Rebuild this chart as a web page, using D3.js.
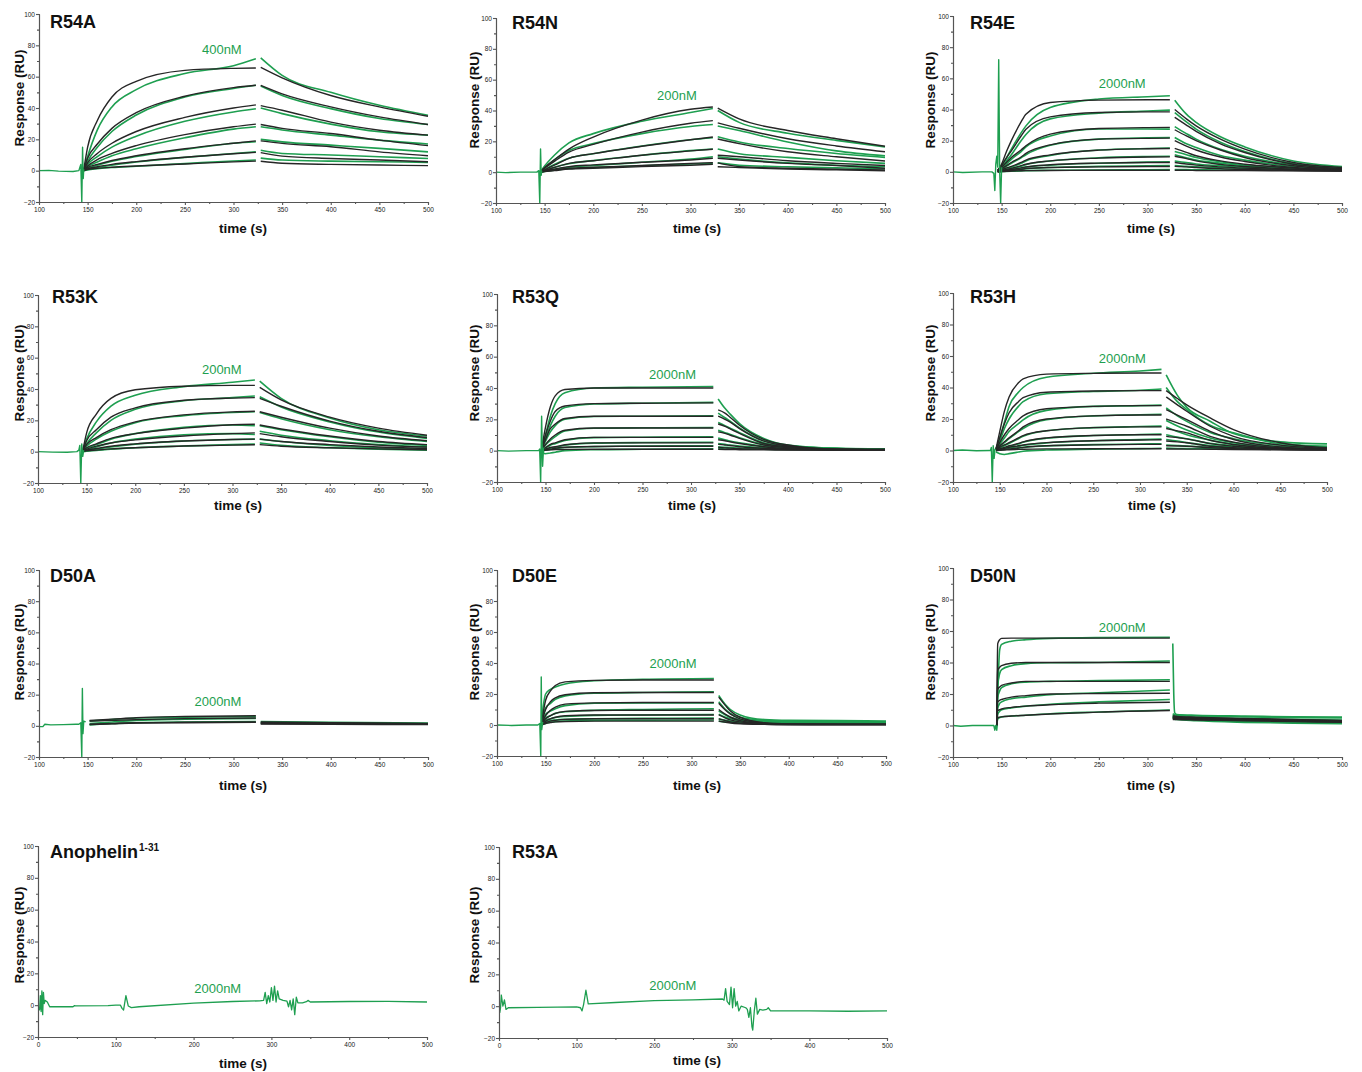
<!DOCTYPE html>
<html><head><meta charset="utf-8">
<script src="https://cdn.jsdelivr.net/npm/d3@7"></script>
<style>
body{margin:0;background:#fff;}
svg{display:block;font-family:"Liberation Sans",Arial,sans-serif;}
.axis path,.axis line{stroke:#555;stroke-width:1.1;}
.axis text{font-size:6.5px;fill:#222;font-family:"Liberation Sans",Arial,sans-serif;}
</style></head><body><script>
const GREEN = "#1e9f50", BLACK = "#262626";

// ---------- R54A ----------
const r54aPre = [[100,0],[110,0.2],[120,-0.3],[135,-0.5],[141,0],[142,2],[143,4],[144,-20],[144.8,15],[145.5,-5],[146,1]];
const r54aAssocT = [146,150,160,175,200,250,300,323];
const r54aFitAssoc = [
  [0.5,15,32,47,57,64,65.3,65.5],[0.5,8,17,27,37,47.5,53,54.5],[0.5,5,11,17.5,25,34,40,42],
  [0.3,3,7,11,16,23,28,29.7],[0.2,2,4,6.5,9.5,14,17.5,19],[0.1,1.2,2.5,4,5.8,8.6,10.8,11.7],[0,0.8,1.5,2.2,3,4.3,5.6,6.1]];
const r54aRawAssoc = [
  [0.5,9,26,40.7,51.7,62,67,71.4],[0.5,6,15,25,35.5,47,52.5,54.5],[0.5,4,9,15,22,31.5,37.5,39.5],
  [0.3,2.5,5.5,9.5,14,21,26.5,28],[0.2,1.5,3.5,6,9,13.5,17.5,18.5],[0.1,0.8,2,3.5,5.5,8.5,11,12],[0,0.5,1.2,2,2.8,4.5,6.2,6.8]];
const r54aDissT = [328,350,400,450,500];
const r54aFitDiss = [[66,59.3,48,40.7,34.7],[54.4,49,40.7,34.3,29.5],[41.5,38.6,31,25.8,22.7],[29.5,27,23.7,19.5,16],
  [19,17.4,15.3,12,9.5],[11.5,9.3,7.8,6.8,5.7],[6,4.7,4,3.6,3.2]];
const r54aRawDiss = [[72,60.8,50,41.7,35.4],[54,48,39.6,33.3,29.5],[40,36.4,29.7,24.8,22.7],[28,26,22.7,19.5,17],
  [20,18.4,16.3,14.2,12],[13,11,10,8.9,7.8],[8,6.8,6.1,5.7,5.3]];

// ---------- R54N ----------
const r54nPre = [[100,0],[110,-0.3],[125,0],[140,0],[142,0],[144,1],[145,-20],[145.8,15],[146.5,-2],[147,1]];
const r54nAssocT = [146,150,160,175,200,250,300,323];
const r54nFitAssoc = [
  [0.5,3,8,15,22.8,33.8,40.8,42.3],[0.5,2.5,7,13,18,26,31.7,33.4],[0.3,1.5,4.5,9,12,16.8,21,22.8],
  [0.2,1,3,5.7,7.4,11,13.8,14.9],[0.1,0.8,2,3.6,4.7,6.4,7.9,9],[0,0.6,1.5,2.5,3.2,4.3,5.7,6.2],[0,0.4,1,2,2.5,3.6,4.5,5.1]];
const r54nRawAssoc = [
  [0.5,4,11,19,25,33,38.7,41.3],[0.5,3,8,14,18.5,25,29.6,30.9],[0.3,1.8,5,9,12,17,21,22.3],
  [0.2,1.2,3.2,5.5,7.5,11,14,15],[0.1,0.6,1.8,3.2,4.3,6.4,8.5,10],[0,0.5,1.3,2.3,3,4.2,5.3,5.7]];
const r54nDissT = [328,350,400,450,500];
const r54nFitDiss = [[41.5,34.5,27,21.7,16.8],[32,28.5,21.7,17,13.2],[21.5,18.5,13.2,10,7.2],[11,10,7.4,5.7,4.3],
  [9,7.9,5.7,4.3,2.5],[6,3.6,2.5,1.9,1.5],[3.5,3,2.1,1.5,0.9]];
const r54nRawDiss = [[40,32.3,25.3,20.6,16.4],[30,27,19.6,13.8,10.6],[23,19.6,15.3,12.1,9.6],[15,12,9.6,7.4,5.7],
  [10,8.5,6,4.5,3.5],[6,4.5,3.5,2.8,2.2]];

// ---------- R54E ----------
const r54ePre = [[100,0],[110,-0.4],[130,0],[140,0],[142,-1],[143,-12],[144,5],[145,10],[146,3],[147,72],[148,0],[149,-20],[150,3]];
const r54eAssocT = [146,150,155,160,170,175,200,250,300,323];
const r54eFitAssoc = [
  [1,5,13,20,32,37,44.5,46,46.3,46.3],[1,4,9,13.5,23,27.4,35.3,38.1,38.5,38.5],[0.5,3,6,9.2,14,16.7,24.2,27.8,28.4,28.5],
  [0.5,2,4,6,9.5,11.8,17.3,21,21.5,21.6],[0.3,1.2,2.5,3.5,6,7.5,10.9,13.9,14.8,15],[0.2,0.8,1.5,2.2,4,4.9,7,8.8,9.5,9.6],
  [0.1,0.5,1,1.5,2.5,3.2,4.5,5.6,6,6],[0,0.3,0.6,0.9,1.6,2.1,2.8,3.2,3.4,3.4],[0,0.2,0.3,0.5,0.7,0.8,0.9,1,1,1]];
const r54eRawAssoc = [
  [1,4,9,14.6,25,29.5,41.3,46.7,48.2,48.8],[1,3,7,11,20,24,34,37.7,39,39.6],[0.5,2,5,8,13,16,23,27.5,27.5,27.4],
  [0.5,1.5,3.5,5.5,9,11,17,21,21.8,22],[0.3,1,2,3,5.5,7,10.5,14,15,15.3],[0.2,0.7,1.3,2,3.5,4.5,7,9,9.8,10],
  [0.1,0.5,0.9,1.3,2.3,3,4.3,5.5,6.2,6.5],[0,0.3,0.5,0.8,1.5,2,2.8,3.5,3.8,4],[0,0.2,0.3,0.4,0.6,0.8,1,1.2,1.3,1.4]];
const r54eDissT = [328,340,350,375,400,450,500];
const r54eFitDiss = [[40,34,29.5,21,14.6,6,2.8],[35,30,26,18,12.4,4.9,2.1],[27,23,20,14,9.2,3.9,1.7],[20,16.5,14,9.5,6.6,2.8,1.3],
  [15,12.5,10.3,7,4.9,2.4,1.1],[10,8.5,7,4.8,3.4,1.7,0.9],[6,5,4.3,3.2,2.4,1.3,0.6],[3.5,3.2,2.8,2,1.5,0.9,0.5],[1,1,0.9,0.8,0.8,0.6,0.5]];
const r54eRawDiss = [[46,37,31.7,22.5,16,7,3.4],[38,32,27.4,19,13,5.4,2.8],[29,24.5,21,14.5,10,4.5,2.5],[22,18,15.6,10.5,7.5,3.4,2],
  [13,11,9.2,6.5,4.5,2.5,1.5],[11,9,7.5,5.5,4,2.5,2],[7,6,5,4,3,2,1.5],[4,3.5,3.2,2.6,2.2,1.6,1.2],[1.5,1.4,1.3,1.2,1.1,1,1]];

// ---------- R53K ----------
const r53kPre = [[100,0],[115,-0.3],[130,-0.4],[140,0],[142,1],[143,4],[144,-20],[145,5],[146,-3],[147,1]];
const r53kAssocT = [146,150,160,175,200,250,300,323];
const r53kFitAssoc = [
  [0.5,12,24,34,39.5,41.8,42.3,42.3],[0.5,7,14,22,28,32.8,34.2,34.5],[0.5,4.5,9,14,19,23.5,25.4,25.8],
  [0.3,2.5,5,8.5,11.5,15,17.2,17.5],[0.2,1.5,3.5,5.5,7.5,10,11.5,12],[0.1,1,2,3.5,5,6.8,7.8,8],[0,0.5,1,1.8,2.5,3.6,4.2,4.4]];
const r53kRawAssoc = [
  [0.5,8,19,29,36,41.5,44.3,45.8],[0.5,5,12,20,27,32.5,34.5,35.5],[0.5,3.5,8,13,18.5,23,25,25.5],
  [0.3,2,4.5,8,11.5,15.5,17,16.5],[0.2,1,3,5.5,8,10.8,11.5,11],[0.1,0.5,1.5,3,4.8,6.8,7.8,8],[0,0.3,0.8,1.6,2.5,3.6,4.5,4.8]];
const r53kDissT = [328,350,400,450,500];
const r53kFitDiss = [[41,33,22,15,10.5],[34,29,19.5,13,9],[25.5,22,15,10,7],[17,14.5,10,6.5,4.5],[11.5,9.5,6.5,4.2,3],[8,6.5,4.5,3,2],[4.5,3.5,2.5,1.8,1.2]];
const r53kRawDiss = [[45,34,21.5,14,10],[35,28.5,19,12.5,8.5],[25,21,14,9.5,6.5],[16.5,14,9.5,6,4],[13,10.5,7,4.5,3],[8,6.5,4,2.5,1.5],[5.5,4,2.5,1.5,1]];

// ---------- R53Q ----------
const r53qPre = [[100,0],[112,-0.3],[130,0],[143,0],[144,1],[145,-20],[146,22],[147,-10],[148,2]];
const r53qAssocT = [146,150,155,160,170,200,250,323];
const r53qFitAssoc = [
  [1,15,28,35,39,40,40,40],[1,10,19,25,28.5,30,30.3,30.5],[0.5,7,14,17,20.5,22,22,22],[0.3,4,7.5,10,13,14.5,14.5,14.5],
  [0.2,2,4,5,7,8.5,8.5,8.5],[0.1,1,2,2.5,3.8,5,5,5],[0,0.5,1,1.5,2.2,2.7,2.8,2.8],[0,0.3,0.5,0.7,0.8,0.9,0.9,0.9]];
const r53qRawAssoc = [
  [1,10,22,30,37,40,40.5,41],[1,8,16,22,27.5,29.8,30.3,30.8],[0.5,6,12,16,20,21.8,22,22.3],[0.3,3.5,6.5,9,12.5,14.3,14.6,14.8],
  [0.2,1.5,3.5,4.5,6.5,8.3,8.6,8.8],[0.1,0.8,1.6,2.2,3.5,4.8,5.2,5.4],[0,0.3,0.8,1.2,2,2.6,3,3.1],[-1,-2,-1.5,-1,0,0.6,0.9,1.2]];
const r53qDissT = [328,335,340,350,375,400,450,500];
const r53qFitDiss = [[26,24,21.5,16.2,7.2,3.6,1,0.8],[22,20,18.4,14.1,6.1,3,1,0.8],[17,15.5,14,11,4.6,2.5,0.9,0.7],[12,11,10,7.8,3.6,1.9,0.8,0.6],
  [7,6.3,5.7,4.6,2.5,1.3,0.7,0.5],[4,3.6,3.3,2.5,1.5,0.8,0.5,0.4],[2,1.8,1.6,1.3,0.9,0.6,0.4,0.4],[0.8,0.7,0.7,0.6,0.5,0.4,0.3,0.3]];
const r53qRawDiss = [[33,27,23.6,17.3,7.8,3.6,1.5,1],[24,21,19,14.5,6.5,3.3,1.5,1.2],[18,16,14.5,11.5,5,2.8,1.4,1.1],[13,11.5,10.5,8.2,4,2.2,1.3,1],
  [8,7,6.2,5,2.8,1.6,1.1,0.9],[4.5,4,3.6,3,1.8,1.2,1,0.8],[2.5,2.2,2,1.6,1.2,1,0.9,0.8],[1.2,1.1,1,1,0.9,0.8,0.8,0.7]];

// ---------- R53H ----------
const r53hPre = [[100,0],[110,0.3],[125,-0.2],[139,0],[140,0],[141,2],[142,-20],[143,3],[144,-5],[145,1]];
const r53hAssocT = [146,150,155,160,170,175,200,250,300,323];
const r53hFitAssoc = [
  [1,12,25,34,43,45.5,48.5,49,49.2,49.2],[1,8,17,24,31,33.5,37,37.8,38,38],[0.5,5,10,14,19.5,22,26.5,28,28.5,28.5],
  [0.3,3,5.5,8,12.5,15,20,22,22.5,22.5],[0.2,2,3.5,5,8,9.5,12.5,14.5,15,15],[0.1,1,2,3,4.5,5.5,8,9.5,10,10],
  [0,0.7,1.3,2,3,3.5,5,6.2,6.7,6.8],[0,0.4,0.7,1,1.6,2,3,3.6,3.9,3.9],[0,0.2,0.3,0.5,0.7,0.8,1,1.1,1.1,1.1]];
const r53hRawAssoc = [
  [1,8,18,28,37,40,46.5,49,50.5,51.5],[1,6,14,20,28,31,36,37.5,38.3,39],[0.5,4,8,12,17,19.5,25.5,28,28.5,28.8],
  [0.3,2.5,5,7.5,12,14,19.5,22,22.7,23],[0.2,1.5,3,4.5,7.5,9,12.5,14.5,15.2,15.5],[0.1,0.8,1.6,2.5,4.2,5.2,7.8,9.5,10.2,10.5],
  [0,0.5,1,1.6,2.6,3.2,4.8,6.2,6.9,7.2],[0,0.3,0.6,0.9,1.5,1.9,2.9,3.7,4.1,4.3],[-1,-2,-2.5,-2,-1,-0.5,0.3,0.8,1.2,1.4]];
const r53hDissT = [328,340,350,375,400,450,500];
const r53hFitDiss = [[38,33,29,20.7,13.3,4.9,1.7],[34,29,24.9,15.4,9,3.4,1.3],[26,22.5,19.6,12.2,7,2.3,1],[20,17.5,15.4,9,5.3,1.7,0.8],
  [14,12.5,11.2,6.5,3.8,1.3,0.7],[9,8.2,7.4,4.4,2.7,1,0.6],[6,5.5,4.9,2.7,1.8,0.8,0.5],[3,2.9,2.7,1.8,1.2,0.6,0.4],[1,1,0.9,0.8,0.6,0.4,0.3]];
const r53hRawDiss = [[48,35,27.4,18.6,10.8,5.5,4.2],[40,31,26,16,11.2,4.4,2.7],[27,22,18.5,11.5,7.5,3.5,2.5],[19,15.5,13,8,5,2.5,2],
  [15,12,10,6.5,4,2.2,1.8],[10,8.5,7.5,4.5,3,1.8,1.5],[7,6,5,3.2,2.2,1.5,1.2],[3.5,3.2,2.9,2,1.5,1.1,1],[1.5,1.3,1.2,1.1,1,0.9,0.8]];

// ---------- D50A ----------
const d50aPre = [[100,-0.5],[104,-0.5],[106,1],[112,0.6],[125,0.8],[138,1],[141,1],[143,2],[144,-20],[144.6,24],[145.2,-5],[146,3],[148,2.5]];
const d50aAssocT = [152,175,200,250,323];
const d50aFitAssoc = [[3.5,4.3,5.2,6,6.5],[3,3.5,4,4.6,5],[1,1.5,2,2.3,2.5],[0.8,1.3,1.8,2,2.2]];
const d50aRawAssoc = [[3,4,5,5.5,6],[1.5,2.5,3.5,4.3,4.8],[0.5,1.5,2,2.5,2.8]];
const d50aDissT = [328,400,500];
const d50aFitDiss = [[2.5,2,1.5],[2,1.8,1.3],[1.5,1.3,1],[1.2,1,0.8]];
const d50aRawDiss = [[2.8,2.2,1.8],[1.8,1.5,1.2]];

// ---------- D50E ----------
const d50ePre = [[100,0],[115,-0.3],[130,0],[142,0],[144,1],[145,-20],[145.5,31],[146,-3],[147,2]];
const d50eAssocT = [146,150,155,160,170,200,250,323];
const d50eFitAssoc = [
  [2,16,22,25.5,27.8,28.8,29,29],[1.5,10,15,17.5,19.5,20.8,21,21],[1,6,9.5,11.5,13.5,14.3,14.5,14.5],[0.5,4,6,7.5,8.8,9.4,9.5,9.5],
  [0.3,2.5,4,5,6,6.5,6.5,6.5],[0.2,1.5,2.5,3,3.6,4,4,4],[0.1,1,1.5,2,2.3,2.5,2.5,2.5]];
const d50eRawAssoc = [
  [5,20,23,24.5,26.5,28.5,29.5,30],[2,11,14,16.5,18.8,20.5,21,21.5],[1,7,9,10.5,12.5,14,14.2,14.3],[0.5,4.5,6,7.5,8.5,9.5,10,10.5],
  [0.3,3,4,4.8,5.5,6.2,6.5,6.8],[0.2,2,2.8,3.2,3.6,4,4.3,4.5],[0.1,1,1.8,2.2,2.6,3,3.1,3.2]];
const d50eDissT = [328,335,340,350,375,400,450,500];
const d50eFitDiss = [[18,12.5,9,5,1.5,0.7,0.5,0.5],[14,9.5,7,4,1.2,0.6,0.5,0.5],[10,6.8,5,2.8,0.9,0.5,0.4,0.4],[6.5,4.5,3.3,2,0.8,0.4,0.3,0.3],
  [4,2.8,2,1.2,0.5,0.3,0.3,0.3],[2.5,1.8,1.3,0.8,0.4,0.2,0.2,0.2]];
const d50eRawDiss = [[19,13,10,6.5,3.5,3,2.8,2.5],[15,10,7.5,5,3,2.5,2.2,2],[9,6.5,5,3.5,2.5,2.2,2,1.8],[7,5,4,3,2.3,2,1.8,1.5],
  [4,3,2.5,2,1.8,1.5,1.3,1.2],[2.5,2,1.8,1.5,1.3,1.2,1,1]];

// ---------- D50N ----------
const d50nPre = [[100,0],[108,-0.5],[120,0],[142,0],[143,-3],[144,0],[145,-3],[145.5,0]];
const d50nAssocT = [145,146,148,150,160,175,200,250,323];
const d50nFitAssoc = [
  [0,52,54.5,55.3,55.5,55.5,55.5,55.5,55.5],[0,35,37,38,39.5,40,40,40,40],[0,23,24.5,25.5,27,28,28,28,28],
  [0,15,16,16.5,18,19,20,20.3,20.5],[0,9.5,10,10.5,11.5,12.3,13.2,14.2,14.8],[0,5,5.3,5.5,6,6.5,7.3,8.5,9.5]];
const d50nRawAssoc = [
  [0,20,48,51.5,53.5,54.5,55.3,55.8,56],[0,25,33,35.5,38,39.3,39.8,40,41],[0,18,22,24,26.5,27.5,28,28.5,29],
  [0,11,14,15,17,18,19.5,20.8,22.5],[0,7,9,10,11.2,12.3,13.5,15,16.5],[0,4,5,5.5,6,6.5,7.5,8.6,9.8]];
const d50nDissT = [326,327,328,330,350,400,450,500];
const d50nFitDiss = [[6,6,6,5.8,5.3,4.5,3.8,3.2],[5.5,5.5,5.5,5.4,5,4.2,3.5,3],[5,5,5,4.9,4.6,3.9,3.3,2.8],
  [4.6,4.6,4.6,4.5,4.2,3.6,3,2.5],[4.2,4.2,4.2,4.1,3.8,3.3,2.8,2.3],[3.8,3.8,3.8,3.7,3.5,3,2.5,2]];
const d50nRawDiss = [[52,20,8,7,6.5,6,5.5,5.3],[7.5,7,6.8,6.6,6,5.5,5,4.8],[6.5,6,5.8,5.6,5,4.3,3.8,3.5],
  [6,5.5,5,4.8,4.2,3.5,3,2.5],[5.5,5,4.6,4.3,3.5,2.5,2,1.5],[5,4.5,4,3.8,3,2,1.5,1.2]];

// ---------- Anophelin 1-31 (single trace) ----------
const anoT = [0,2,3,4,5,6,7,8,9,12,15,45,47,48,90,100,106,108,110,113,116,120,130,200,250,285,290,292,294,296,298,300,302,304,306,308,310,315,320,322,324,326,328,330,332,334,340,345,347,350,400,450,500];
const anoV = [-1,-3,6,-4,9,-6,8,1,3,2,-1,-1,-0.3,-0.5,-0.3,0,0,-2,-3,6,-0.5,-1.5,-1,1.3,2.3,2.7,3,8,1,6,2,11,3,12,2,9,4,3,2.5,-1,3,-3,4,-6,5,1.5,1.5,2.2,3,2,2.3,2.4,2];

// ---------- R53A (single trace) ----------
const r53aT = [0,1,2,3,5,7,9,12,50,100,105,107,109,112,115,150,200,250,288,290,292,294,297,299,301,303,305,307,309,312,318,320,322,324,326,327,329,331,333,336,340,345,347,350,400,450,500];
const r53aV = [-1,-4,-1,7,0,4,-2,-1,-0.7,-0.5,-1,-3,1,10,1.5,2.3,3.5,4,4.5,3.8,11,3,1,12,-1,11,0,3,-3,0,-1,-2,-7,-1,-13,-15,-3,5,-5,-2,-2.5,-2,-1,-3,-3,-3.2,-3];

const yTicks = [-20,0,20,40,60,80,100];
const kinTicks = [100,150,200,250,300,350,400,450,500];
const fullTicks = [0,100,200,300,400,500];

const panels = [
  {title:"R54A", conc:"400nM", box:[39,428,14,202], lab:[288,74.5], t:[50,28], yt:[19,98], xt:[243,233],
   pre:r54aPre, aT:r54aAssocT, fitA:r54aFitAssoc, rawA:r54aRawAssoc, dT:r54aDissT, fitD:r54aFitDiss, rawD:r54aRawDiss},
  {title:"R54N", conc:"200nM", box:[496,885,18,203], lab:[286,46.8], t:[512,29], yt:[474,100], xt:[697,233],
   pre:r54nPre, aT:r54nAssocT, fitA:r54nFitAssoc, rawA:r54nRawAssoc, dT:r54nDissT, fitD:r54nFitDiss, rawD:r54nRawDiss},
  {title:"R54E", conc:"2000nM", box:[953,1342,16,203], lab:[274,53.8], t:[970,29], yt:[930,100], xt:[1151,233],
   pre:r54ePre, aT:r54eAssocT, fitA:r54eFitAssoc, rawA:r54eRawAssoc, dT:r54eDissT, fitD:r54eFitDiss, rawD:r54eRawDiss},
  {title:"R53K", conc:"200nM", box:[38,427,295,483], lab:[289,49.6], t:[52,303], yt:[19,373], xt:[238,510],
   pre:r53kPre, aT:r53kAssocT, fitA:r53kFitAssoc, rawA:r53kRawAssoc, dT:r53kDissT, fitD:r53kFitDiss, rawD:r53kRawDiss},
  {title:"R53Q", conc:"2000nM", box:[497,885,294,482], lab:[281,45.7], t:[512,303], yt:[474,373], xt:[692,510],
   pre:r53qPre, aT:r53qAssocT, fitA:r53qFitAssoc, rawA:r53qRawAssoc, dT:r53qDissT, fitD:r53qFitDiss, rawD:r53qRawDiss},
  {title:"R53H", conc:"2000nM", box:[953,1327,293,482], lab:[281,55.6], t:[970,303], yt:[930,373], xt:[1152,510],
   pre:r53hPre, aT:r53hAssocT, fitA:r53hFitAssoc, rawA:r53hRawAssoc, dT:r53hDissT, fitD:r53hFitDiss, rawD:r53hRawDiss},
  {title:"D50A", conc:"2000nM", box:[39,428,570,757], lab:[284,12.7], t:[50,582], yt:[19,652], xt:[243,790],
   pre:d50aPre, aT:d50aAssocT, fitA:d50aFitAssoc, rawA:d50aRawAssoc, dT:d50aDissT, fitD:d50aFitDiss, rawD:d50aRawDiss},
  {title:"D50E", conc:"2000nM", box:[497,886,570,756], lab:[281,36.8], t:[512,582], yt:[474,652], xt:[697,790],
   pre:d50ePre, aT:d50eAssocT, fitA:d50eFitAssoc, rawA:d50eRawAssoc, dT:d50eDissT, fitD:d50eFitDiss, rawD:d50eRawDiss},
  {title:"D50N", conc:"2000nM", box:[953,1342,568,757], lab:[274,59.4], t:[970,582], yt:[930,652], xt:[1151,790],
   pre:d50nPre, aT:d50nAssocT, fitA:d50nFitAssoc, rawA:d50nRawAssoc, dT:d50nDissT, fitD:d50nFitDiss, rawD:d50nRawDiss},
  {title:"Anophelin", sup:"1-31", conc:"2000nM", box:[38,427,846,1037], lab:[231,7.6], t:[50,858], yt:[19,935], xt:[243,1068],
   full:true, traceT:anoT, traceV:anoV},
  {title:"R53A", conc:"2000nM", box:[499,887,847,1038], lab:[224,10.2], t:[512,858], yt:[474,935], xt:[697,1065],
   full:true, traceT:r53aT, traceV:r53aV}
];

const svg = d3.select("body").append("svg").attr("width",1362).attr("height",1072);

function zip(ts, vs){ return ts.map((t,i)=>[t, vs[i]]); }

panels.forEach((p,pi)=>{
  const [x0,x1,y0,y1] = p.box;
  const x = d3.scaleLinear().domain(p.full ? [0,500] : [100,500]).range([x0,x1]);
  const y = d3.scaleLinear().domain([-20,100]).range([y1,y0]);
  const g = svg.append("g");

  const clipId = "clip"+pi;
  svg.append("clipPath").attr("id",clipId).append("rect")
    .attr("x",x0).attr("y",y0).attr("width",x1-x0+2).attr("height",y1-y0);
  const plot = g.append("g").attr("clip-path","url(#"+clipId+")");

  const smooth = d3.line().x(d=>x(d[0])).y(d=>y(d[1])).curve(d3.curveMonotoneX);
  const straight = d3.line().x(d=>x(d[0])).y(d=>y(d[1]));

  function drawSet(ts, sets, color, w){
    sets.forEach(vs=>{
      plot.append("path").attr("d",smooth(zip(ts,vs)))
        .attr("fill","none").attr("stroke",color).attr("stroke-width",w).attr("stroke-linejoin","round");
    });
  }

  if (p.full){
    plot.append("path").attr("d",straight(zip(p.traceT,p.traceV)))
      .attr("fill","none").attr("stroke",GREEN).attr("stroke-width",1.3).attr("stroke-linejoin","round");
  } else {
    drawSet(p.aT, p.rawA, GREEN, 1.6);
    drawSet(p.dT, p.rawD, GREEN, 1.6);
    drawSet(p.aT, p.fitA, BLACK, 1.4);
    drawSet(p.dT, p.fitD, BLACK, 1.4);
    plot.append("path").attr("d",straight(p.pre))
      .attr("fill","none").attr("stroke",GREEN).attr("stroke-width",1.4).attr("stroke-linejoin","round");
  }

  // axes
  const xMajor = p.full ? fullTicks : kinTicks;
  const xMinor = p.full ? d3.range(50,500,100) : d3.range(125,500,50);
  g.append("g").attr("class","axis").attr("transform","translate(0,"+y1+")")
    .call(d3.axisBottom(x).tickValues(xMinor).tickSize(2).tickFormat(""));
  g.append("g").attr("class","axis").attr("transform","translate(0,"+y1+")")
    .call(d3.axisBottom(x).tickValues(xMajor).tickSize(3).tickSizeOuter(0).tickPadding(2).tickFormat(d3.format("d")));
  g.append("g").attr("class","axis").attr("transform","translate("+x0+",0)")
    .call(d3.axisLeft(y).tickValues(d3.range(-10,100,20)).tickSize(2).tickFormat(""));
  g.append("g").attr("class","axis").attr("transform","translate("+x0+",0)")
    .call(d3.axisLeft(y).tickValues(yTicks).tickSize(3).tickSizeOuter(0).tickPadding(1).tickFormat(d3.format("d")));

  // texts
  const tt = g.append("text").attr("x",p.t[0]).attr("y",p.t[1])
    .attr("font-size",18).attr("font-weight","bold").attr("fill","#111").text(p.title);
  if (p.sup) tt.append("tspan").attr("font-size",10).attr("dy",-7).attr("dx",1).text(p.sup);

  g.append("text").attr("transform","translate("+p.yt[0]+","+p.yt[1]+") rotate(-90)")
    .attr("dy","0.35em").attr("text-anchor","middle").attr("font-size",13.5).attr("font-weight","bold").attr("fill","#111")
    .text("Response (RU)");
  g.append("text").attr("x",p.xt[0]).attr("y",p.xt[1]).attr("text-anchor","middle")
    .attr("font-size",13.5).attr("font-weight","bold").attr("fill","#111").text("time (s)");
  g.append("text").attr("x",x(p.lab[0])).attr("y",y(p.lab[1])).attr("text-anchor","middle")
    .attr("font-size",13).attr("fill",GREEN).text(p.conc);
});
</script></body></html>
